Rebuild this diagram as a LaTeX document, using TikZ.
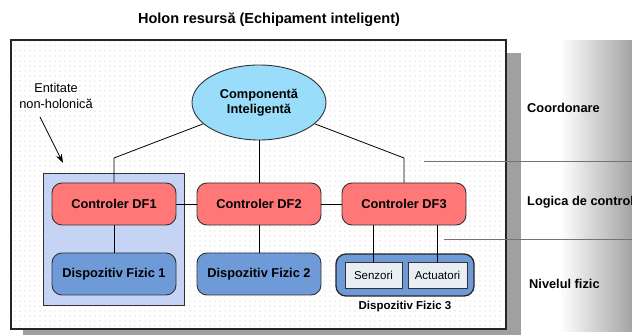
\documentclass[tikz,border=0pt]{standalone}
\usepackage{fontspec}
\setmainfont{Liberation Sans}
\usetikzlibrary{patterns.meta,arrows.meta,shapes.geometric}
\definecolor{cellip}{RGB}{153,221,250}
\definecolor{cctrl}{RGB}{255,119,119}
\definecolor{cdev}{RGB}{110,155,215}
\definecolor{cnonh}{RGB}{197,212,245}
\definecolor{csub}{RGB}{232,238,244}
\definecolor{cshadow}{RGB}{160,160,160}
\definecolor{cedge}{RGB}{50,50,50}
\definecolor{cdot}{RGB}{205,205,205}
\tikzset{
  x=1pt, y=-1pt,
  ctrl/.style={draw=cedge, line width=0.9pt, fill=cctrl, rounded corners=10pt,
    minimum width=124pt, minimum height=42pt, inner sep=0pt,
    font=\fontsize{12.8}{14}\selectfont\bfseries},
  dev/.style={ctrl, fill=cdev},
  sub/.style={draw=cedge, line width=0.9pt, fill=csub, minimum height=26pt,
    inner sep=0pt, font=\fontsize{11.5}{13}\selectfont},
  conn/.style={draw=black, line width=0.8pt},
  sideline/.style={draw=black!55, line width=0.8pt},
  sidelbl/.style={anchor=west, inner sep=0pt, font=\fontsize{12.8}{14}\selectfont\bfseries},
}
\begin{document}
\begin{tikzpicture}
\useasboundingbox (0,0) rectangle (632,336);
% right gradient band
\shade[left color=white, right color=black!36] (560,41) rectangle (632,332);
% frame shadow
\fill[cshadow] (23,53) rectangle (521,335);
% main frame
\fill[white] (11,40) rectangle (506,329);
\fill[pattern={Dots[distance=5pt, radius=0.55pt]}, pattern color=cdot] (11,40) rectangle (506,329);
\draw[line width=1.4pt, draw=black!85] (11,40) rectangle (506,329);
% title
\node[font=\fontsize{14.5}{16}\selectfont\bfseries, inner sep=0pt] (title) at (269,20) {Holon resursă (Echipament inteligent)};
% non-holonic entity box
\node[draw=cedge, line width=0.8pt, fill=cnonh, minimum width=141pt, minimum height=132pt, inner sep=0pt] (nonh) at (113.5,239) {};
% side lines
\draw[sideline] (424,161) coordinate (l1a) -- (632,161) coordinate (l1b);
\draw[sideline] (444,239) coordinate (l2a) -- (632,239) coordinate (l2b);
% ellipse
\node[draw=cedge, line width=0.9pt, fill=cellip, ellipse, minimum width=134pt, minimum height=75pt, inner sep=0pt,
  font=\fontsize{12.8}{15.5}\selectfont\bfseries, align=center] (ell) at (259,102.5) {Componentă\\Inteligentă};
% controllers
\node[ctrl] (df1) at (114,204) {Controler DF1};
\node[ctrl] (df2) at (259,204) {Controler DF2};
\node[ctrl] (df3) at (404,204) {Controler DF3};
% devices
\node[dev] (d1) at (114,274) {Dispozitiv Fizic 1};
\node[dev] (d2) at (259,274) {Dispozitiv Fizic 2};
\node[dev, line width=1.3pt, draw=black!85, minimum width=138pt] (d3) at (405,275) {};
\node[sub, minimum width=57pt] (sen) at (373.5,275) {Senzori};
\node[sub, minimum width=59pt] (act) at (437.5,275) {Actuatori};
\node[font=\fontsize{11.5}{13}\selectfont\bfseries, inner sep=0pt] (d3lbl) at (405,307) {Dispozitiv Fizic 3};
% connectors
\coordinate (kl) at (114,158);
\coordinate (kr) at (404,158);
\draw[conn] (ell) -- (kl) -- (df1);
\draw[conn] (ell) -- (kr) -- (df3);
\draw[conn] (ell) -- (df2);
\draw[conn] (df1) -- (df2);
\draw[conn] (df2) -- (df3);
\draw[conn] (df1) -- (d1);
\draw[conn] (df2) -- (d2);
\draw[conn] (df3.south -| sen) -- (sen);
\draw[conn] (df3.south -| act) -- (act);
% annotation
\node[font=\fontsize{12.8}{16}\selectfont, align=center, inner sep=0pt] (ann) at (56,96) {Entitate\\non-holonică};
\coordinate (arA) at (40,117);
\coordinate (arB) at (63,163);
\draw[line width=0.8pt, -{Stealth[length=9pt, width=6pt]}] (arA) -- (arB);
% side labels
\node[sidelbl] (coord) at (527,108) {Coordonare};
\node[sidelbl] (logic) at (527,202) {Logica de control};
\node[sidelbl] (niv) at (529,284) {Nivelul fizic};
\end{tikzpicture}
\end{document}
